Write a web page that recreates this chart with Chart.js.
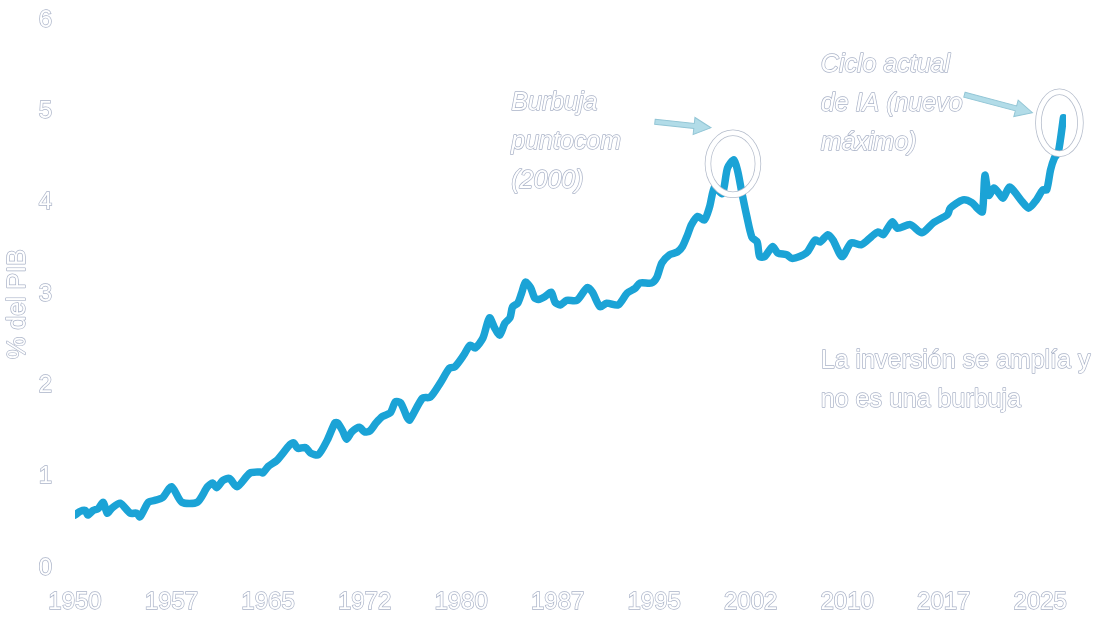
<!DOCTYPE html>
<html>
<head>
<meta charset="utf-8">
<script src="https://cdn.jsdelivr.net/npm/chart.js@4.4.1/dist/chart.umd.min.js"></script>
<style>
html, body { margin: 0; padding: 0; background: #fff; }
#wrap { width: 1100px; height: 620px; position: relative; }
</style>
</head>
<body>
<div id="wrap"><canvas id="chart"></canvas></div>
<script>
// inversión en % del PIB
const years = [
    1950.0, 1950.4, 1950.8, 1951.0, 1951.4, 1951.8, 1952.2, 1952.5, 1952.9, 1953.5,
    1954.3, 1954.8, 1955.05, 1955.7, 1956.2, 1956.8, 1957.5, 1958.3, 1959.5, 1960.3,
    1960.7, 1961.0, 1961.5, 1962.0, 1962.6, 1963.6, 1964.4, 1964.6, 1965.0, 1965.7,
    1966.7, 1967.0, 1967.3, 1967.9, 1968.3, 1968.9, 1969.6, 1970.2, 1970.4, 1970.8,
    1971.1, 1971.5, 1972.1, 1972.5, 1972.9, 1973.4, 1973.9, 1974.5, 1974.9, 1975.3,
    1975.8, 1976.0, 1977.0, 1977.6, 1978.4, 1979.1, 1979.5, 1980.2, 1980.7, 1981.1,
    1981.7, 1982.2, 1982.6, 1983.0, 1983.4, 1983.8, 1984.0, 1984.4, 1984.7, 1985.0,
    1985.4, 1985.7, 1986.0, 1986.5, 1987.0, 1987.3, 1987.7, 1988.2, 1989.0, 1989.8,
    1990.2, 1990.8, 1991.3, 1992.2, 1992.9, 1993.5, 1993.9, 1994.8, 1995.2, 1995.6,
    1996.2, 1996.8, 1997.2, 1997.6, 1997.9, 1998.4, 1998.9, 1999.3, 1999.7, 2000.3,
    2000.7, 2001.2, 2001.5, 2001.8, 2002.2, 2002.6, 2003.0, 2003.2, 2003.6, 2004.2,
    2004.6, 2005.3, 2005.7, 2006.3, 2006.9, 2007.5, 2007.9, 2008.5, 2008.9, 2009.6,
    2010.3, 2011.1, 2011.9, 2012.4, 2012.8, 2013.5, 2013.9, 2014.9, 2015.8, 2016.7,
    2017.8, 2018.0, 2019.0, 2019.7, 2020.1, 2020.5, 2020.7, 2021.0, 2021.4, 2021.8,
    2022.1, 2022.6, 2023.0, 2023.6, 2024.1, 2024.7, 2025.2, 2025.5, 2025.8, 2026.1,
    2026.4, 2026.8
];
const investment = [
    0.58, 0.62, 0.63, 0.58, 0.63, 0.65, 0.72, 0.60, 0.66, 0.71,
    0.60, 0.60, 0.56, 0.72, 0.74, 0.77, 0.89, 0.72, 0.72, 0.89,
    0.93, 0.88, 0.96, 0.98, 0.89, 1.04, 1.05, 1.04, 1.11, 1.18,
    1.35, 1.37, 1.31, 1.32, 1.26, 1.24, 1.40, 1.59, 1.59, 1.50,
    1.41, 1.49, 1.54, 1.49, 1.50, 1.59, 1.66, 1.70, 1.82, 1.81,
    1.65, 1.62, 1.86, 1.87, 2.03, 2.19, 2.20, 2.33, 2.44, 2.41,
    2.52, 2.74, 2.63, 2.55, 2.68, 2.74, 2.86, 2.90, 3.01, 3.13,
    3.07, 2.96, 2.94, 2.97, 3.02, 2.91, 2.88, 2.93, 2.93, 3.07,
    3.02, 2.86, 2.90, 2.88, 3.01, 3.06, 3.12, 3.12, 3.18, 3.34,
    3.43, 3.46, 3.52, 3.65, 3.76, 3.85, 3.81, 3.95, 4.17, 4.10,
    4.38, 4.47, 4.34, 4.12, 3.85, 3.62, 3.57, 3.41, 3.41, 3.52,
    3.45, 3.43, 3.39, 3.41, 3.46, 3.59, 3.57, 3.65, 3.59, 3.41,
    3.56, 3.54, 3.63, 3.68, 3.65, 3.79, 3.72, 3.76, 3.67, 3.78,
    3.87, 3.94, 4.03, 4.00, 3.94, 3.90, 4.30, 4.08, 4.16, 4.10,
    4.05, 4.17, 4.12, 4.01, 3.94, 4.03, 4.14, 4.14, 4.36, 4.49,
    4.55, 4.93
];
const yearTicks = [1950, 1957.5, 1965, 1972.5, 1980, 1987.5, 1995, 2002.5, 2010, 2017.5, 2025];
const valueTicks = [0, 1, 2, 3, 4, 5, 6];

const yTitle = '% del PIB';
const dotcomNote = ['Burbuja', 'puntocom', '(2000)'];
const aiNote = ['Ciclo actual', 'de IA (nuevo', 'máximo)'];
const mainNote = ['La inversión se amplía y', 'no es una burbuja'];

const LINE_COLOR = '#1ba3d6';
const OUTLINE = '#aab3c8';
const FONT = '"Liberation Sans", Arial, Helvetica, sans-serif';

function outlinedText(ctx, text, x, y) {
    ctx.lineJoin = 'round';
    ctx.lineWidth = 1.4;
    ctx.strokeStyle = OUTLINE;
    ctx.strokeText(text, x, y);
    ctx.fillStyle = '#fff';
    ctx.fillText(text, x, y);
}

function drawArrow(ctx, x0, y0, x1, y1) {
    const ang = Math.atan2(y1 - y0, x1 - x0);
    const len = Math.hypot(x1 - x0, y1 - y0);
    const headLen = 17, headW = 8.5, shaftW = 2.5;
    ctx.save();
    ctx.translate(x0, y0);
    ctx.rotate(ang);
    ctx.beginPath();
    ctx.moveTo(0, -shaftW);
    ctx.lineTo(len - headLen, -shaftW);
    ctx.lineTo(len - headLen, -headW);
    ctx.lineTo(len, 0);
    ctx.lineTo(len - headLen, headW);
    ctx.lineTo(len - headLen, shaftW);
    ctx.lineTo(0, shaftW);
    ctx.closePath();
    ctx.fillStyle = '#b2dce8';
    ctx.fill();
    ctx.lineWidth = 1;
    ctx.strokeStyle = '#93c6d6';
    ctx.stroke();
    ctx.restore();
}

function drawRing(ctx, cx, cy, rx, ry) {
    ctx.beginPath();
    ctx.ellipse(cx, cy, rx, ry, 0, 0, Math.PI * 2);
    ctx.lineWidth = 6.5;
    ctx.strokeStyle = '#b4bccb';
    ctx.stroke();
    ctx.lineWidth = 5;
    ctx.strokeStyle = '#fff';
    ctx.stroke();
}

const notesPlugin = {
    id: 'notes',
    afterDatasetsDraw(chart) {
        const ctx = chart.ctx;
        const xs = chart.scales.x;
        const ys = chart.scales.y;
        const area = chart.chartArea;

        // punto máximo de la burbuja y último dato
        let peakIdx = 0;
        years.forEach((yr, i) => {
            if (yr < 2005 && investment[i] > investment[peakIdx]) peakIdx = i;
        });
        const lastIdx = years.length - 1;
        const px = xs.getPixelForValue(years[peakIdx]);
        const py = ys.getPixelForValue(investment[peakIdx]);
        const lx = xs.getPixelForValue(years[lastIdx]);
        const ly = ys.getPixelForValue(investment[lastIdx]);

        ctx.save();
        drawRing(ctx, px - 1, py + 4, 25, 31);
        drawRing(ctx, lx - 4, ly + 5, 21, 31);
        drawArrow(ctx, px - 79, py - 38, px - 23, py - 32);
        drawArrow(ctx, lx - 99, ly - 23, lx - 31, ly - 5);

        ctx.textBaseline = 'middle';
        ctx.textAlign = 'left';
        ctx.font = 'italic 25px ' + FONT;
        const lineH = 39;
        let tx = xs.getPixelForValue(1983.9), ty = ys.getPixelForValue(5.09);
        dotcomNote.forEach((t, i) => outlinedText(ctx, t, tx, ty + i * lineH));
        tx = xs.getPixelForValue(2007.95); ty = ys.getPixelForValue(5.51);
        aiNote.forEach((t, i) => outlinedText(ctx, t, tx, ty + i * lineH));

        ctx.font = '25px ' + FONT;
        ty = ys.getPixelForValue(2.26);
        mainNote.forEach((t, i) => outlinedText(ctx, t, tx, ty + i * lineH));

        // título del eje y
        ctx.translate(18, (area.top + area.bottom) / 2 + 10);
        ctx.rotate(-Math.PI / 2);
        ctx.textAlign = 'center';
        ctx.font = '25px ' + FONT;
        outlinedText(ctx, yTitle, 0, 0);
        ctx.restore();
    },
};

new Chart(document.getElementById('chart'), {
    type: 'line',
    plugins: [notesPlugin],
    data: {
        datasets: [
            {
                data: years.map((yr, i) => ({ x: yr, y: investment[i] })),
                borderColor: LINE_COLOR,
                borderWidth: 7.5,
                borderCapStyle: 'round',
                borderJoinStyle: 'round',
                pointRadius: 0,
                tension: 0.25,
                fill: false,
            },
        ],
    },
    options: {
        responsive: true,
        maintainAspectRatio: false,
        animation: false,
        events: [],
        layout: { padding: { top: 20, right: 34, left: 0, bottom: 0 } },
        plugins: {
            legend: { display: false },
            tooltip: { enabled: false },
        },
        scales: {
            x: {
                type: 'linear',
                min: 1950,
                max: 2027,
                grid: { display: false, drawTicks: false },
                border: { display: false },
                afterBuildTicks: (axis) => {
                    axis.ticks = yearTicks.map((v) => ({ value: v }));
                },
                afterFit: (axis) => {
                    axis.height = 52;
                    axis.paddingLeft = 0;
                    axis.paddingRight = 0;
                },
                ticks: {
                    autoSkip: false,
                    maxRotation: 0,
                    padding: 20,
                    color: '#fff',
                    textStrokeColor: OUTLINE,
                    textStrokeWidth: 1.4,
                    font: { family: FONT, size: 24 },
                    callback: (v) => Math.floor(v),
                },
            },
            y: {
                min: 0,
                max: 6,
                grid: { display: false, drawTicks: false },
                border: { display: false },
                afterBuildTicks: (axis) => {
                    axis.ticks = valueTicks.map((v) => ({ value: v }));
                },
                afterFit: (axis) => {
                    axis.width = 75;
                    axis.paddingTop = 0;
                    axis.paddingBottom = 0;
                },
                ticks: {
                    padding: 23,
                    color: '#fff',
                    textStrokeColor: OUTLINE,
                    textStrokeWidth: 1.4,
                    font: { family: FONT, size: 24 },
                },
            },
        },
    },
});
</script>
</body>
</html>
